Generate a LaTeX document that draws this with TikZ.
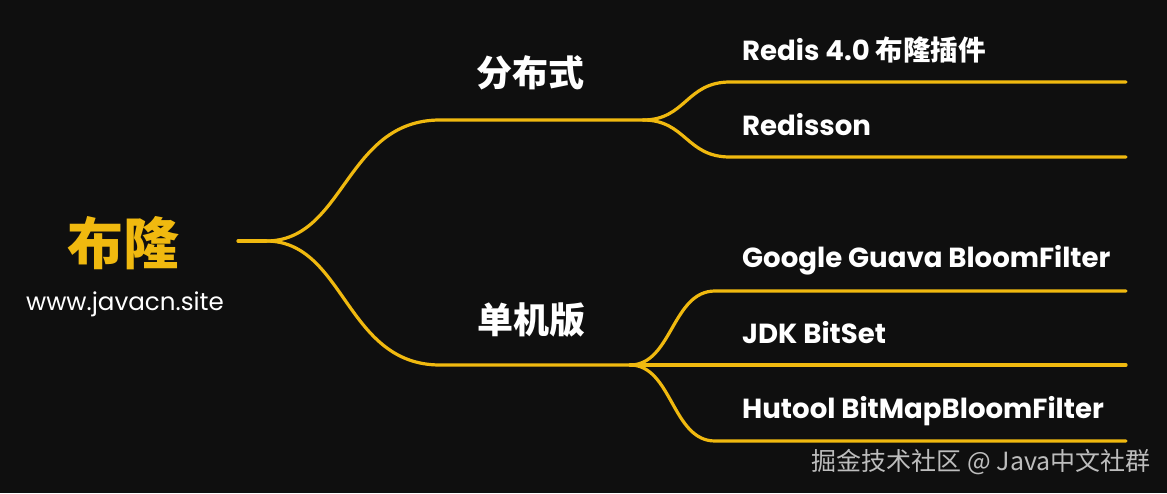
\documentclass[tikz,border=0pt]{standalone}
\usepackage{fontspec}
\setmainfont{Poppins}
\newfontfamily\cjk{Noto Sans CJK SC}
\definecolor{bg}{HTML}{0F0F0F}
\definecolor{gold}{HTML}{F0B90F}
\definecolor{wm}{HTML}{BDBDBD}
\begin{document}
\begin{tikzpicture}[x=1pt,y=-1pt,
  branch/.style={draw=gold,line width=3.2pt,line cap=round},
  rootlabel/.style={text=gold,inner sep=0pt,font=\cjk\bfseries\fontsize{56}{60}\selectfont},
  sitelabel/.style={text=white,inner sep=0pt,anchor=base,font=\fontsize{24.6}{28}\selectfont},
  midlabel/.style={text=white,inner sep=0pt,font=\cjk\bfseries\fontsize{36}{40}\selectfont},
  leaflabel/.style={text=white,inner sep=0pt,anchor=base west,font=\bfseries\fontsize{27.6}{32}\selectfont},
  wmlabel/.style={text=wm,inner sep=0pt,anchor=east,font=\cjk\fontsize{25}{30}\selectfont}]
\fill[bg] (0,0) rectangle (1167,493);
\useasboundingbox (0,0) rectangle (1167,493);
% junction points
\coordinate (r) at (238,241);
\coordinate (rs) at (266,241);
\coordinate (d1) at (440,120);
\coordinate (d2) at (643,120);
\coordinate (a1) at (730,82);
\coordinate (a2) at (1126,82);
\coordinate (b1) at (730,157);
\coordinate (b2) at (1126,157);
\coordinate (s1) at (440,365);
\coordinate (s2) at (630,365);
\coordinate (c1) at (715,291);
\coordinate (c2) at (1126,291);
\coordinate (e2) at (1126,365);
\coordinate (f1) at (715,441);
\coordinate (f2) at (1126,441);
% connectors
\draw[branch] (r) -- (rs);
\draw[branch] (rs) .. controls (345,241) and (345,120) .. (d1) -- (d2);
\draw[branch] (rs) .. controls (345,241) and (345,365) .. (s1) -- (s2);
\draw[branch] (d2) .. controls (686,120) and (686,82) .. (a1) -- (a2);
\draw[branch] (d2) .. controls (686,120) and (686,157) .. (b1) -- (b2);
\draw[branch] (s2) .. controls (672,365) and (672,291) .. (c1) -- (c2);
\draw[branch] (s2) -- (e2);
\draw[branch] (s2) .. controls (672,365) and (672,441) .. (f1) -- (f2);
% labels
\node[rootlabel] (root) at (123,243) {布隆};
\node[sitelabel] (site) at (125,310) {www.javacn.site};
\node[midlabel] (dist) at (530,73) {分布式};
\node[midlabel] (single) at (531,320) {单机版};
\node[leaflabel] (redis) at (742,60) {Redis 4.0 {\cjk\bfseries 布隆插件}};
\node[leaflabel] (redisson) at (742,135) {Redisson};
\node[leaflabel] (guava) at (742,267) {Google Guava BloomFilter};
\node[leaflabel] (jdk) at (742,343) {JDK BitSet};
\node[leaflabel] (hutool) at (742,418) {Hutool BitMapBloomFilter};
\node[wmlabel] (wmark) at (1151,462) {掘金技术社区 @ Java中文社群};
\end{tikzpicture}
\end{document}
